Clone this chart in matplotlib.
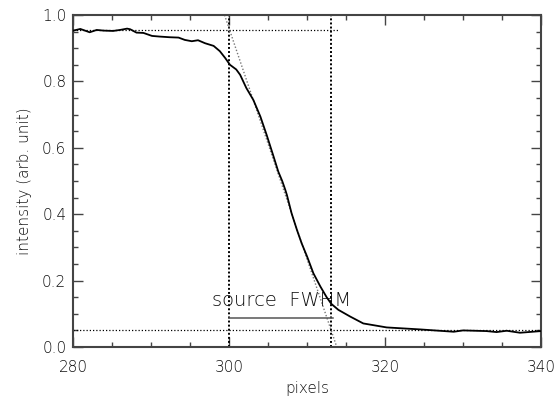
import matplotlib.pyplot as plt
import numpy as np

# profil natezenia wzdluz krawedzi
pix = np.array([280.0, 280.9, 281.5, 282.1, 283.0, 283.9, 285.1, 286.0, 286.9, 287.3,
                288.1, 289.0, 290.1, 291.1, 292.4, 293.5, 294.3, 295.2, 296.0, 296.9,
                298.0, 298.8, 299.5, 300.1, 300.9, 301.4, 302.2, 303.1, 304.0, 304.8,
                305.7, 306.3, 306.8, 307.2, 307.4, 308.0, 308.7, 309.3, 310.0, 310.8,
                311.7, 312.5, 313.1, 314.0, 315.5, 317.2, 320.2, 324.5, 328.8, 330.0,
                333.0, 334.3, 335.6, 337.3, 340.0])
intensity = np.array([0.953, 0.958, 0.953, 0.948, 0.955, 0.953, 0.952, 0.955, 0.959, 0.957,
                      0.947, 0.946, 0.937, 0.935, 0.933, 0.932, 0.925, 0.921, 0.924, 0.915,
                      0.907, 0.891, 0.870, 0.850, 0.836, 0.820, 0.780, 0.744, 0.694, 0.639,
                      0.573, 0.528, 0.500, 0.473, 0.458, 0.403, 0.352, 0.312, 0.272, 0.222,
                      0.182, 0.150, 0.130, 0.112, 0.092, 0.071, 0.059, 0.053, 0.046, 0.050,
                      0.048, 0.045, 0.049, 0.043, 0.048])

top_level = 0.955
bottom_level = 0.050
top_end = 314.0
edge_left = 300.0
edge_right = 313.1
# dopasowana prosta na zboczu
fit_x = [299.4, 313.8]
fit_y = [1.0, 0.0]
fwhm_y = 0.088
label_xy = (297.75, 0.123)

plt.rcParams['font.weight'] = 'light'
plt.rcParams['axes.labelweight'] = 'light'

fig = plt.figure(figsize=(5.57, 3.98), dpi=100)
ax = fig.add_axes([0.1316, 0.1281, 0.8397, 0.8342])

axcol = '#444444'
txtcol = '#111111'

ax.plot(pix, intensity, color='black', lw=1.3, zorder=5)
ax.plot([280, top_end], [top_level, top_level], color='black', lw=0.9, ls=(0, (1, 1.6)))
ax.plot([280, 340], [bottom_level, bottom_level], color='black', lw=0.9, ls=(0, (1, 1.6)))
ax.axvline(edge_left, color='black', lw=1.4, ls=(0, (1, 1.1)))
ax.axvline(edge_right, color='black', lw=1.4, ls=(0, (1, 1.1)))
ax.plot(fit_x, fit_y, color='#777777', lw=1.0, ls=(0, (1, 1.4)))
ax.plot([edge_left, 313.3], [fwhm_y, fwhm_y], color='#555555', lw=1.1)
ax.text(label_xy[0], label_xy[1], 'source  FWHM', fontsize=14, color=txtcol,
        ha='left', va='baseline')

ax.set_xlim(280, 340)
ax.set_ylim(0, 1.0)
ax.set_xticks([280, 300, 320, 340])
ax.set_xticks(np.arange(280, 341, 5), minor=True)
ax.set_yticks(np.arange(0, 1.01, 0.2))
ax.set_yticks(np.arange(0, 1.01, 0.05), minor=True)
ax.set_yticklabels(['%.1f' % v for v in np.arange(0, 1.01, 0.2)])

ax.tick_params(which='both', direction='in', top=True, right=True, color=axcol,
               labelsize=11, labelcolor=txtcol, width=1.0)
ax.tick_params(which='major', length=7)
ax.tick_params(which='minor', length=3.5)
ax.tick_params(axis='x', pad=9)
ax.tick_params(axis='y', pad=5)
for s in ax.spines.values():
    s.set_color(axcol)
    s.set_linewidth(1.5)

ax.set_xlabel('pixels', fontsize=11, color=txtcol, labelpad=5)
ax.set_ylabel('intensity (arb. unit)', fontsize=11, color=txtcol, labelpad=7)

fig.savefig('out.png', dpi=100)
